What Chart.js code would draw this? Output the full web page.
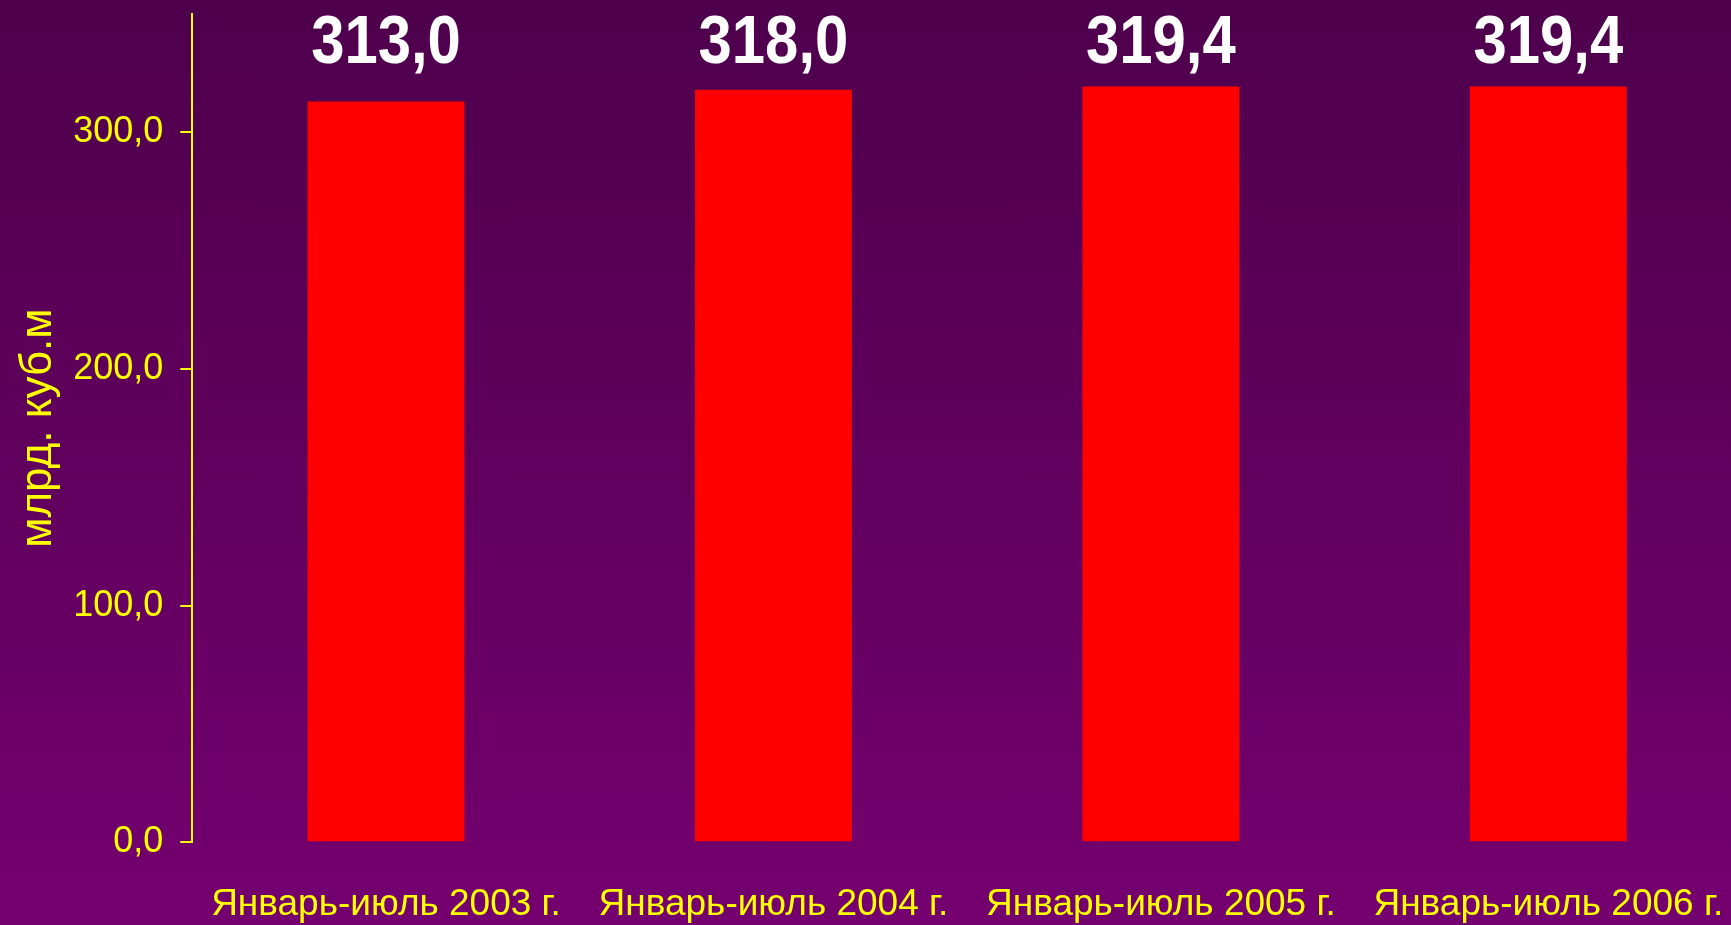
<!DOCTYPE html>
<html>
<head>
<meta charset="utf-8">
<script src="https://cdn.jsdelivr.net/npm/chart.js@4/dist/chart.umd.min.js"></script>
<style>
  html, body {
    margin: 0;
    padding: 0;
    width: 1731px;
    height: 925px;
    overflow: hidden;
    background: linear-gradient(to bottom, #4e004c, #74006f);
  }
  canvas { display: block; }
</style>
</head>
<body>
<canvas id="chart" width="1742" height="925"></canvas>
<script>
const categories = ['Январь-июль 2003 г.', 'Январь-июль 2004 г.', 'Январь-июль 2005 г.', 'Январь-июль 2006 г.'];
const volumes = [313.0, 318.0, 319.4, 319.4];
const yTicks = [0, 100, 200, 300];
const yMax = 350;
const yTitle = 'млрд. куб.м';

const FONT = "'Liberation Sans', Arial, sans-serif";
const YELLOW = '#ffff00';

const fmt = v => v.toFixed(1).replace('.', ',');

// подписи значений над столбцами (в одну линию, шрифт чуть сжат по ширине)
const valueLabels = {
  id: 'valueLabels',
  afterDatasetsDraw(chart) {
    const ctx = chart.ctx;
    const meta = chart.getDatasetMeta(0);
    const baseY = chart.chartArea.top + 49;
    ctx.save();
    ctx.font = 'bold 68px ' + FONT;
    ctx.fillStyle = '#ffffff';
    ctx.textAlign = 'center';
    ctx.textBaseline = 'alphabetic';
    meta.data.forEach((bar, i) => {
      ctx.save();
      ctx.translate(bar.x, baseY);
      ctx.scale(0.88, 1);
      ctx.fillText(fmt(volumes[i]), 0, 0);
      ctx.restore();
    });
    ctx.restore();
  }
};

const ctx = document.getElementById('chart').getContext('2d');

new Chart(ctx, {
  type: 'bar',
  data: {
    labels: categories,
    datasets: [{
      data: volumes,
      backgroundColor: '#ff0000',
      borderWidth: 0,
      categoryPercentage: 1,
      barPercentage: 0.405,
    }]
  },
  options: {
    responsive: false,
    devicePixelRatio: 1,
    animation: false,
    layout: {padding: {top: 14, left: 0, right: 0, bottom: 0}},
    scales: {
      x: {
        // невидимые риски — только чтобы опустить подписи
        grid: {
          display: true,
          drawOnChartArea: false,
          drawTicks: true,
          tickLength: 42,
          color: 'rgba(0,0,0,0)',
        },
        border: {display: false},
        ticks: {
          color: YELLOW,
          padding: 0,
          maxRotation: 0,
          autoSkip: false,
          font: {family: FONT, size: 37, lineHeight: 1.1},
        },
        afterFit: scale => {
          scale.paddingLeft = 0;
          scale.paddingRight = 0;
        }
      },
      y: {
        min: 0,
        max: yMax,
        afterBuildTicks: scale => {
          scale.ticks = yTicks.map(v => ({value: v}));
        },
        afterFit: scale => {
          scale.paddingTop = 0;
          scale.paddingBottom = 0;
        },
        grid: {
          display: true,
          drawOnChartArea: false,
          drawTicks: true,
          tickLength: 12,
          color: YELLOW,
          lineWidth: 2,
        },
        border: {display: true, color: YELLOW, width: 2},
        ticks: {
          color: YELLOW,
          padding: 17,
          font: {family: FONT, size: 36},
          callback: v => fmt(v),
        },
        title: {
          display: true,
          text: yTitle,
          color: YELLOW,
          font: {family: FONT, size: 44, lineHeight: 0.8},
          padding: {top: 21, bottom: 0},
        }
      }
    },
    plugins: {
      legend: {display: false},
      tooltip: {enabled: false},
    }
  },
  plugins: [valueLabels]
});
</script>
</body>
</html>
